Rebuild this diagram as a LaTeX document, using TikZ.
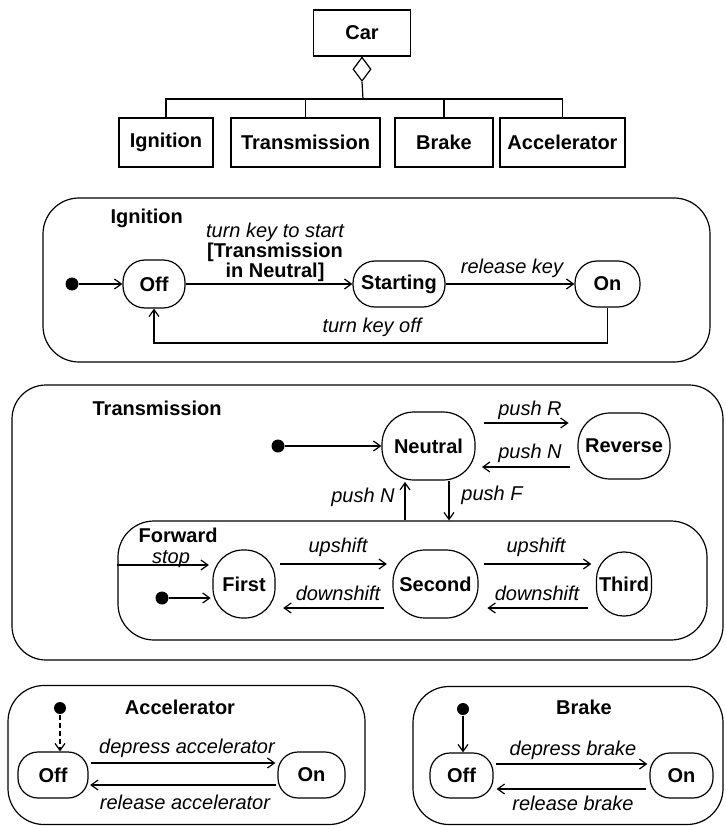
\documentclass[tikz,border=0pt]{standalone}
\usepackage{fontspec}
\setmainfont{Liberation Sans}
\usetikzlibrary{arrows.meta,shapes.geometric}
\begin{document}
\begin{tikzpicture}[x=1pt,y=-1pt,
  line width=1.2pt,
  tip/.style={-{Straight Barb[length=7pt,width=10pt]}},
  nm/.style={font=\fontsize{20}{22}\selectfont\bfseries, inner sep=0pt},
  lb/.style={font=\fontsize{20}{20}\selectfont\itshape, inner sep=0pt},
  box/.style={draw, nm},
  st/.style={draw, nm, rounded corners=#1},
  st/.default=22pt,
  frame/.style={draw, inner sep=0pt, rounded corners=#1},
  frame/.default=34pt,
  init/.style={circle, fill, inner sep=0pt, minimum size=13pt}]
\useasboundingbox (0,0) rectangle (725,826);

% ---------- class diagram ----------
\node[box, minimum width=97pt, minimum height=46pt] (car) at (362,33) {Car};
\node[diamond, draw, minimum width=18pt, minimum height=24pt, inner sep=0pt, anchor=north] (agg) at (car.south) {};
\coordinate (bus) at (363,99);
\node[box, minimum width=94pt, minimum height=49pt] (cI) at (166,142.5) {Ignition};
\node[box, minimum width=149pt, minimum height=49pt] (cT) at (305.5,142.5) {Transmission};
\node[box, minimum width=98pt, minimum height=49pt] (cB) at (444,142.5) {Brake};
\node[box, minimum width=125pt, minimum height=49pt] (cA) at (562.5,142.5) {Accelerator};
\draw (agg.south) -- (bus);
\draw (cI.north) |- (cA.north |- bus) -- (cA.north);
\draw (cT.north) -- (cT.north |- bus);
\draw (cB.north) -- (cB.north |- bus);

% ---------- Ignition ----------
\node[frame=36pt, minimum width=667pt, minimum height=164pt] (fI) at (376.5,280) {};
\node[nm, anchor=west] (tI) at (110,218) {Ignition};
\node[init] (i0) at (72,284) {};
\node[st, minimum width=62pt, minimum height=48pt] (ioff) at (154,284) {Off};
\node[st, minimum width=92pt, minimum height=46pt] (istart) at (399,284) {Starting};
\node[st, minimum width=65pt, minimum height=46pt] (ion) at (607.5,284) {On};
\draw[tip] (i0) -- (ioff);
\draw[tip] (ioff) -- (istart);
\draw[tip] (istart) -- (ion);
\coordinate (iret) at (0,343);
\draw[tip] (ion.south) |- (iret -| ioff.south) -- (ioff.south);
\node[lb, align=center] (l1) at (275,252) {turn key to start\\{\upshape\bfseries [Transmission}\\{\upshape\bfseries in Neutral]}};
\node[lb] (l2) at (512,268) {release key};
\node[lb] (l3) at (372,327) {turn key off};

% ---------- Transmission ----------
\node[frame, minimum width=711pt, minimum height=275pt] (fT) at (367.5,522.5) {};
\node[nm, anchor=west] (tT) at (92,408) {Transmission};
\node[init] (t0) at (278,446) {};
\node[st=32pt, minimum width=93pt, minimum height=68pt] (neu) at (428.5,446) {Neutral};
\node[st=32pt, minimum width=92pt, minimum height=66pt] (rev) at (624,446) {Reverse};
\draw[tip] (t0) -- (neu);
\coordinate (yR) at (0,423);
\coordinate (yN) at (0,467);
\draw[tip, shorten <=7.9pt, shorten >=8.8pt] (neu.east |- yR) -- (rev.west |- yR);
\draw[tip, shorten <=7pt, shorten >=6.3pt] (rev.west |- yN) -- (neu.east |- yN);
\node[lb] (lR) at (530,410) {push R};
\node[lb] (lN) at (530,453) {push N};

\node[frame=36pt, minimum width=589pt, minimum height=119pt] (fwd) at (412.5,580.5) {};
\node[nm, anchor=west] (tF) at (138,535) {Forward};
\coordinate (pN) at (405,0);
\coordinate (pF) at (449,0);
\draw[tip, shorten >=1.3pt] (fwd.north -| pN) -- (neu.south -| pN);
\draw[tip, shorten <=0.6pt] (neu.south -| pF) -- (fwd.north -| pF);
\node[lb] (lpN) at (363,497) {push N};
\node[lb] (lpF) at (492,495) {push F};

\node[st=30pt, minimum width=62pt, minimum height=68pt] (fst) at (244,584) {First};
\node[st=32pt, minimum width=85pt, minimum height=68pt] (sec) at (435.5,584) {Second};
\node[st=27pt, minimum width=55pt, minimum height=64pt] (thd) at (624,584) {Third};
\coordinate (yU) at (0,564);
\coordinate (yD) at (0,608);
\coordinate (yS) at (0,565);
\draw[tip, shorten <=4.6pt, shorten >=5.5pt] (fst.east |- yU) -- (sec.west |- yU);
\draw[tip, shorten <=5.5pt, shorten >=4.6pt] (sec.east |- yU) -- (thd.west |- yU);
\draw[tip, shorten <=8.8pt, shorten >=7.6pt] (sec.west |- yD) -- (fst.east |- yD);
\draw[tip, shorten <=7.8pt, shorten >=8.8pt] (thd.west |- yD) -- (sec.east |- yD);
\draw[tip, shorten >=3.5pt] (fwd.west |- yS) -- (fst.west |- yS);
\node[init] (f0) at (162,598) {};
\draw[tip, shorten >=1.7pt] (f0) -- (fst.west |- f0);
\node[lb] (lu1) at (338,547) {upshift};
\node[lb] (lu2) at (536,547) {upshift};
\node[lb] (ld1) at (338,593) {downshift};
\node[lb] (ld2) at (537,593) {downshift};
\node[lb] (lst) at (171,559) {stop};

% ---------- Accelerator ----------
\node[frame=36pt, minimum width=357pt, minimum height=139pt] (fA) at (186.5,755) {};
\node[nm] (tA) at (180,707) {Accelerator};
\node[init, minimum size=12pt] (a0) at (60,708) {};
\node[st=20pt, minimum width=70pt, minimum height=46pt] (aoff) at (53,775) {Off};
\node[st=20pt, minimum width=67pt, minimum height=46pt] (aon) at (311.5,775) {On};
\draw[tip, dash pattern=on 5pt off 3pt] (a0) -- (a0 |- aoff.north);
\coordinate (yA1) at (0,763);
\coordinate (yA2) at (0,785);
\draw[tip, shorten <=2pt, shorten >=2pt] (aoff.east |- yA1) -- (aon.west |- yA1);
\draw[tip, shorten <=1.5pt, shorten >=1.5pt] (aon.west |- yA2) -- (aoff.east |- yA2);
\node[lb] (lA1) at (187,748) {depress accelerator};
\node[lb] (lA2) at (185,802) {release accelerator};

% ---------- Brake ----------
\node[frame=36pt, minimum width=310pt, minimum height=138pt] (fB) at (568,755.5) {};
\node[nm] (tB) at (584,707) {Brake};
\node[init, minimum size=12pt] (b0) at (463,709) {};
\node[st=20pt, minimum width=63pt, minimum height=45pt] (boff) at (461.5,775.5) {Off};
\node[st=20pt, minimum width=63pt, minimum height=45pt] (bon) at (681.5,775.5) {On};
\draw[tip] (b0) -- (b0 |- boff.north);
\coordinate (yB1) at (0,764);
\coordinate (yB2) at (0,789);
\draw[tip, shorten <=2pt, shorten >=2pt] (boff.east |- yB1) -- (bon.west |- yB1);
\draw[tip, shorten <=3pt, shorten >=3pt] (bon.west |- yB2) -- (boff.east |- yB2);
\node[lb] (lB1) at (573,750) {depress brake};
\node[lb] (lB2) at (573,803) {release brake};
\end{tikzpicture}
\end{document}
